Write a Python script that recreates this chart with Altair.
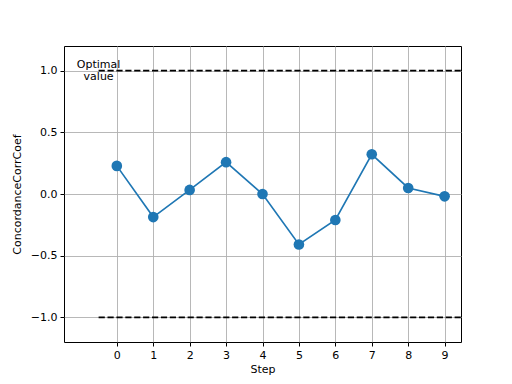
import altair as alt
import pandas as pd

steps = [0, 1, 2, 3, 4, 5, 6, 7, 8, 9]
ccc = [0.228, -0.187, 0.033, 0.258, 0.0, -0.409, -0.211, 0.322, 0.049, -0.019]
optimal_y = [1.0, -1.0]
optimal_x_start = -0.5
optimal_x_end = 9.5
label_lines = ["Optimal", "\u00a0value"]
label_x = -0.5
label_y = 1.0

x_domain = [-1.45, 9.45]
y_domain = [-1.2, 1.2]
x_ticks = steps
y_ticks = [-1.0, -0.5, 0.0, 0.5, 1.0]

df = pd.DataFrame({"Step": steps, "CCC": ccc})
hl = pd.DataFrame({"y": optimal_y, "x": [optimal_x_start] * 2, "x2": [optimal_x_end] * 2})
lab = pd.DataFrame({"x": [label_x], "y": [label_y], "t": [label_lines]})

font = "DejaVu Sans"
xs = alt.Scale(domain=x_domain, nice=False, zero=False)
ys = alt.Scale(domain=y_domain, nice=False, zero=False)

xaxis = alt.Axis(values=x_ticks, title="Step", grid=True, labelExpr="format(datum.value,'d')")
yaxis = alt.Axis(values=y_ticks, title="ConcordanceCorrCoef", grid=True,
                 labelExpr="replace(format(datum.value,'.1f'),'-','\u2212')")

line = alt.Chart(df).mark_line(color="#1f77b4", strokeWidth=1.67).encode(
    x=alt.X("Step:Q", scale=xs, axis=xaxis),
    y=alt.Y("CCC:Q", scale=ys, axis=yaxis),
)
pts = alt.Chart(df).mark_point(filled=True, shape="circle", size=113, color="#1f77b4", opacity=1).encode(
    x=alt.X("Step:Q", scale=xs),
    y=alt.Y("CCC:Q", scale=ys),
)
rules = alt.Chart(hl).mark_rule(color="black", strokeWidth=1.67, strokeDash=[6.2, 2.7], clip=True).encode(
    x=alt.X("x:Q", scale=xs),
    x2="x2:Q",
    y=alt.Y("y:Q", scale=ys),
)
text = alt.Chart(lab).mark_text(font=font, fontSize=11, color="black", align="center",
                                baseline="middle", lineHeight=12, dy=-6).encode(
    x=alt.X("x:Q", scale=xs),
    y=alt.Y("y:Q", scale=ys),
    text="t",
)

chart = alt.layer(text, rules, line, pts).properties(
    width=397, height=296,
    autosize=alt.AutoSizeParams(type="none"),
    padding={"left": 56, "top": 38, "right": 40, "bottom": 40},
).configure_view(
    stroke="black", strokeWidth=1
).configure_axis(
    labelFont=font, labelFontSize=11, labelColor="black",
    titleFont=font, titleFontSize=11, titleColor="black", titleFontWeight="normal",
    tickColor="black", tickSize=4, tickWidth=1,
    domain=False, gridColor="#b0b0b0", gridWidth=0.9, labelPadding=3,
).configure_axisX(titlePadding=3).configure_axisY(titlePadding=8)

chart.save("out.html", embed_options={"renderer": "svg", "actions": False})
